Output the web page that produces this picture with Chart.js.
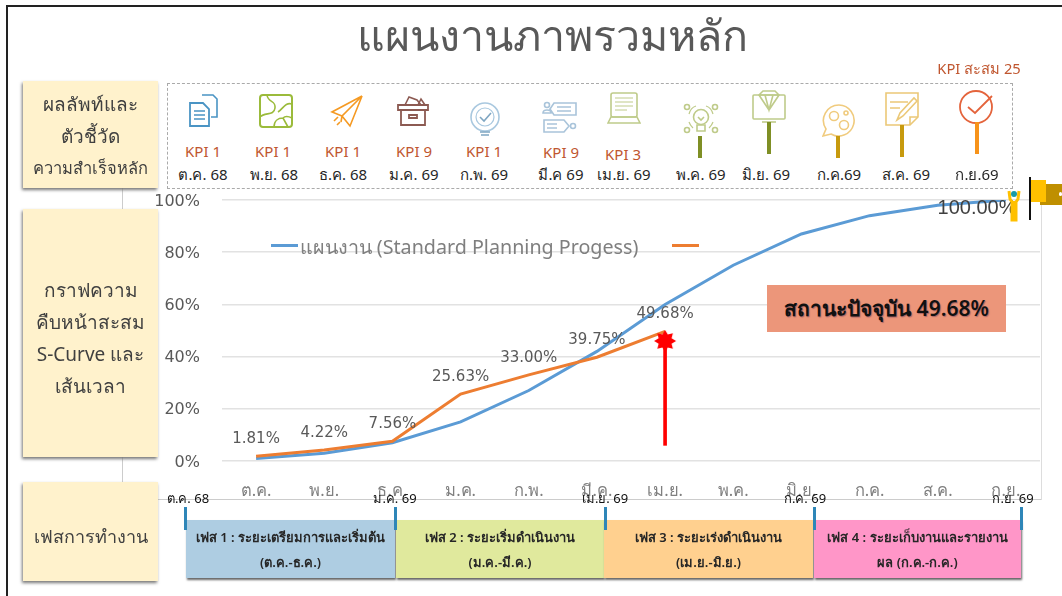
<!DOCTYPE html>
<html lang="th"><head><meta charset="utf-8">
<script src="https://cdn.jsdelivr.net/npm/chart.js@4"></script>
<style>
html,body{margin:0;padding:0;background:#fff;width:1062px;height:596px;overflow:hidden;font-family:"Noto Sans","DejaVu Sans",sans-serif}
.a{position:absolute}
.t{position:absolute;white-space:nowrap;transform:translate(-50%,-50%)}
.box{position:absolute;background:#FFF2CC;box-shadow:-1px 2px 3px #777;color:#404040;display:flex;flex-direction:column;align-items:center;justify-content:center;text-align:center;font-size:19px;box-sizing:border-box}
.ph{position:absolute;top:520px;height:58px;box-shadow:1px 2px 2px #666;color:#262626;font-size:13px;font-weight:600;text-align:center;line-height:25px;padding-top:5px;box-sizing:border-box}
.tick{position:absolute;width:3px;top:507px;height:23px;background:#2E86B8}
</style></head><body>
<div class="a" style="left:6px;top:5px;width:2px;height:591px;background:#222"></div>
<div class="a" style="left:6px;top:5px;width:1056px;height:2px;background:#222"></div>
<div class="a" style="left:122px;top:178px;width:1px;height:304px;background:#ccc"></div>
<div class="a" style="left:158px;top:499px;width:884px;height:1px;background:#ccc"></div>
<div class="a" style="left:1041px;top:205px;width:1px;height:295px;background:#ddd"></div>
<canvas id="c" class="a" style="left:0;top:0" width="1062" height="596"></canvas>
<div id="ui"></div>
<script>
const months=["ต.ค.","พ.ย.","ธ.ค.","ม.ค.","ก.พ.","มี.ค.","เม.ย.","พ.ค.","มิ.ย.","ก.ค.","ส.ค.","ก.ย."];
const plan=[1,3,7,15,27,42,60,75,87,94,98,100];
const actual=[1.81,4.22,7.56,25.63,33,39.75,49.68,null,null,null,null,null];
const statusPoint=[null,null,null,null,null,null,46,null,null,null,null,null];
const statusBar=[null,null,null,null,null,null,[6,46],null,null,null,null,null];
const yTicks=[0,20,40,60,80,100];
const kpiLabels=["KPI 1","KPI 1","KPI 1","KPI 9","KPI 1","KPI 9","KPI 3"];
const kpiMonths=["ต.ค. 68","พ.ย. 68","ธ.ค. 68","ม.ค. 69","ก.พ. 69","มี.ค 69","เม.ย. 69","พ.ค. 69","มิ.ย. 69","ก.ค.69","ส.ค. 69","ก.ย.69"];
const phaseText=[["เฟส 1 : ระยะเตรียมการและเริ่มต้น","(ต.ค.-ธ.ค.)"],["เฟส 2 : ระยะเริ่มดำเนินงาน","(ม.ค.-มี.ค.)"],["เฟส 3 : ระยะเร่งดำเนินงาน","(เม.ย.-มิ.ย.)"],["เฟส 4 : ระยะเก็บงานและรายงาน","ผล (ก.ค.-ก.ค.)"]];
const phaseDates=["ต.ค. 68","ม.ค. 69","เม.ย. 69","ก.ค. 69","ก.ย. 69"];

function starCanvas(){const s=24,c=document.createElement('canvas');c.width=c.height=s;const g=c.getContext('2d');g.fillStyle='#f00';g.beginPath();
 for(let i=0;i<16;i++){const r=i%2?7:11,a=i*Math.PI/8;g[i?'lineTo':'moveTo'](12+r*Math.cos(a),12+r*Math.sin(a));}g.closePath();g.fill();return c;}

const labelPlugin={id:'vals',afterDatasetsDraw(ch){const g=ch.ctx,m=ch.getDatasetMeta(1);g.save();g.font='15px "DejaVu Sans"';g.fillStyle='#595959';g.textAlign='center';g.textBaseline='middle';
 actual.forEach((v,i)=>{if(v==null)return;const p=m.data[i];g.fillText(v.toFixed(2)+'%',p.x,p.y-17);});g.restore();}};

new Chart(document.getElementById('c'),{type:'line',plugins:[labelPlugin],
 data:{labels:months,datasets:[
  {label:'แผนงาน (Standard Planning Progess)',data:plan,borderColor:'#5B9BD5',borderWidth:3,pointRadius:0,tension:0,order:3},
  {label:'',data:actual,borderColor:'#ED7D31',borderWidth:3,pointRadius:0,tension:0,order:2},
  {type:'bar',data:statusBar,backgroundColor:'#f00',barThickness:3,order:1},
  {data:statusPoint,showLine:false,pointStyle:starCanvas(),pointRadius:12,order:0}
 ]},
 options:{responsive:false,animation:false,
  layout:{padding:{left:222-80,right:1062-1040,top:200,bottom:85}},
  plugins:{legend:{display:false},tooltip:{enabled:false}},
  scales:{
   x:{afterFit(s){s.height=50;},grid:{display:false},border:{display:false},ticks:{color:'#808080',font:{size:16.5,family:'"Noto Sans","DejaVu Sans"'},padding:12,maxRotation:0,autoSkip:false}},
   y:{min:0,max:100,afterBuildTicks(s){s.ticks=yTicks.map(v=>({value:v}));},afterFit(s){s.width=80;},grid:{color:'#E2E2E2',lineWidth:1.5,drawTicks:false},border:{display:false},ticks:{color:'#595959',font:{size:16,family:'"DejaVu Sans"'},padding:22,labelOffset:1.5,callback:v=>v+'%'}}
  }}});

/* ---- page furniture ---- */
const ui=document.getElementById('ui');let h='';
h+=`<div class="t" style="left:552px;top:36px;font-size:43px;font-weight:500;color:#595959">แผนงานภาพรวมหลัก</div>`;
h+=`<div class="box" style="left:23px;top:81px;width:135px;height:107px;line-height:32px;padding-top:2px"><div>ผลลัพท์และ</div><div>ตัวชี้วัด</div><div style="font-size:16.5px">ความสำเร็จหลัก</div></div>`;
h+=`<div class="box" style="left:23px;top:209px;width:135px;height:248px;line-height:32px;padding-top:10px"><div>กราฟความ</div><div>คืบหน้าสะสม</div><div>S-Curve และ</div><div>เส้นเวลา</div></div>`;
h+=`<div class="box" style="left:23px;top:482px;width:135px;height:99px;font-size:18px;padding-top:10px"><div>เฟสการทำงาน</div></div>`;
h+=`<div class="a" style="left:167px;top:83px;width:844px;height:104px;border:1px dashed #aaa;background:#fff"></div>`;
h+=`<div class="t" style="left:979px;top:68px;font-size:14.7px;color:#C0562F">KPI สะสม 25</div>`;
const kx=[203,274,343,414,484,561,624,701,766,839,906,977];
const ky=[151,151,151,151,151,152,154];
kpiMonths.forEach((m,i)=>{h+=`<div class="t" style="left:${kx[i]}px;top:175px;font-size:15px;color:#262626">${m}</div>`;
 if(i<7)h+=`<div class="t" style="left:${[203,273,343,414,484,561,623][i]}px;top:${ky[i]}px;font-size:15px;color:#C0562F">${kpiLabels[i]}</div>`;});
/* status box */
h+=`<div class="t" style="left:977px;top:207px;font-size:20px;color:#404040;font-family:'Liberation Sans'">100.00%</div>`;
h+=`<div class="a" style="left:767px;top:285px;width:239px;height:47px;background:#EC967A;display:flex;align-items:center;justify-content:center;font-size:21px;font-weight:600;color:#111;text-shadow:1px 1px 1px #a66">สถานะปัจจุบัน 49.68%</div>`;
/* legend */
h+=`<div class="a" style="left:271px;top:244px;width:27px;height:3px;background:#5B9BD5"></div><div class="a" style="left:672px;top:244px;width:27px;height:3px;background:#ED7D31"></div>`;
h+=`<div class="t" style="left:469px;top:247px;font-size:19.7px;color:#7f7f7f">แผนงาน (Standard Planning Progess)</div>`;
/* phases */
const pl=[186,396,604,814],pw=[209,208,209,207],pc=['#AECDE2','#E0E99D','#FFD08F','#FF96C8'];
phaseText.forEach((p,i)=>{h+=`<div class="ph" style="left:${pl[i]}px;width:${pw[i]}px;background:${pc[i]}">${p[0]}<br>${p[1]}</div>`;});
[184,394,604,813,1020].forEach(x=>h+=`<div class="tick" style="left:${x}px"></div>`);
[188,395,605,805,1013].forEach((x,i)=>h+=`<div class="t" style="left:${x}px;top:498px;font-size:13px;color:#111">${phaseDates[i]}</div>`);
/* flag & marker */
h+=`<div class="a" style="left:1040px;top:184px;width:22px;height:21px;background:#BF8F00"></div><div class="a" style="left:1030px;top:180px;width:16px;height:22px;background:#FFC000"></div><div class="a" style="left:1029px;top:177px;width:2px;height:43px;background:#111"></div><div class="a" style="left:1059px;top:192px;width:3px;height:4px;background:#fff;border-radius:2px"></div>`;
h+=`<svg class="a" style="left:1006px;top:188px" width="16" height="34" viewBox="0 0 16 34"><path d="M3 3l1 8 2 3v18h4V14l2-3 1-8" fill="none" stroke="#FFC000" stroke-width="3"/><rect x="5" y="13" width="6" height="20" fill="#FFC000"/><circle cx="8" cy="6" r="3" fill="#1A9BA6"/></svg>`;
/* icons */
const sw=(c,b)=>`fill="none" stroke="${c}" stroke-width="${b||1.6}"`;
const G='#BFCB8A',Y='#F0CB7E',B='#A9C4DA';
const ic=[
 [187,94,32,34,`<path d="M15 1h11l4 4v18h-6" ${sw('#4A94C4')}/><path d="M3 9h13l6 6v17H3z" fill="#fff" stroke="#4A94C4" stroke-width="1.8"/><path d="M7 17h11M7 21h11M7 25h11" ${sw('#4A94C4')}/>`],
 [259,94,34,34,`<rect x="1" y="1" width="32" height="32" rx="3" ${sw('#9BBB3B',2)}/><path d="M8 1c1 8 9 5 8 13s-10 4-15 9M33 10c-7-2-9 5-14 8M15 33c0-6 4-9 9-9M24 24l5 9M24 24c3-3 7-1 9 0" ${sw('#9BBB3B')}/>`],
 [328,94,36,36,`<path d="M34 2L4 18l10 4zM34 2L14 22l8 10zM14 22l-1 6M6 27l4-4M9 31l3-3" ${sw('#F59A23')}/>`],
 [396,94,34,32,`<path d="M2 11h30v5H2zM5 16v15h24V16M13 21h8v3h-8z" ${sw('#8C5A52',1.8)}/><path d="M9 11l4-8 8 3 4 5M22 11l3-6 4 6" ${sw('#8C5A52')}/>`],
 [468,102,34,34,`<circle cx="17" cy="15" r="14" ${sw('#A9C8DF')}/><circle cx="17" cy="15" r="9" ${sw('#A9C8DF',1.2)}/><path d="M12 15l4 4 7-8M12 30h10M13 33h8" ${sw('#7FA6C2')}/>`],
 [542,100,36,36,`<circle cx="5" cy="5" r="2.500" ${sw(B)}/><path d="M1 13c0-4 8-4 8 0zM12 3h22v12H12l-4-6zM15 7h14M15 11h14" ${sw(B)}/><path d="M2 20h20l5 6-5 6H2zM5 24h10M5 28h10" ${sw(B)}/><circle cx="31" cy="26" r="2.500" ${sw(B)}/>`],
 [607,92,34,34,`<rect x="4" y="1" width="26" height="24" rx="2" ${sw(G)}/><path d="M8 6h18M8 10h18M8 14h18M8 18h12" ${sw(G,1)}/><path d="M1 31l3-6h26l3 6z" ${sw(G)}/>`],
 [683,102,36,36,`<circle cx="18" cy="15" r="7.500" ${sw(G)}/><path d="M14 23h8v6h-8zM15 15l3 3 3-3" ${sw(G)}/><path d="M6 12c1-4 4-7 7-8M30 12c-1-4-4-7-7-8M6 20c1 3 2 4 4 6M30 20c-1 3-2 4-4 6" ${sw(G,1.2)}/><circle cx="4" cy="5" r="2.500" ${sw(G)}/><circle cx="32" cy="5" r="2.500" ${sw(G)}/><circle cx="4" cy="28" r="2.500" ${sw(G)}/><circle cx="32" cy="28" r="2.500" ${sw(G)}/>`],
 [752,90,34,34,`<rect x="1" y="5" width="32" height="24" rx="1" ${sw(G)}/><path d="M7 5l4-4h12l4 4-10 15zM7 5h20M13 5l4 15 4-15" ${sw(G)}/><path d="M10 32h14" ${sw(G)}/>`],
 [822,104,34,34,`<path d="M17 1a15.500 15.500 0 1 1-8 29l-8 2 3-7A15.500 15.500 0 0 1 17 1z" ${sw(Y)}/><circle cx="12" cy="12" r="4.500" ${sw(Y)}/><circle cx="22" cy="21" r="4.500" ${sw(Y)}/><circle cx="24" cy="9" r="2" ${sw(Y)}/>`],
 [885,92,34,34,`<path d="M1 1h32v24l-8 8H1z" ${sw('#EBC877')}/><path d="M5 10h18M5 16h10M12 28l3-7 14-15 3 3-14 15zM25 33v-8h8" ${sw('#EBC877')}/>`],
 [959,90,34,34,`<circle cx="17" cy="17" r="16" ${sw('#E4643C',1.8)}/><path d="M9 17l7 6L33 6" ${sw('#E4643C',1.8)}/>`]
];
ic.forEach(a=>{h+=`<svg class="a" style="left:${a[0]}px;top:${a[1]}px" width="${a[2]}" height="${a[3]}" viewBox="0 0 ${a[2]} ${a[3]}">${a[4]}</svg>`;});
[[698,136,22,'#7F8F25'],[767,122,32,'#7F8F25'],[836,136,22,'#C79A0E'],[900,125,32,'#C79A0E'],[975,122,32,'#F7931A']].forEach(s=>{h+=`<div class="a" style="left:${s[0]}px;top:${s[1]}px;width:4px;height:${s[2]}px;background:${s[3]}"></div>`;});
ui.innerHTML=h;
</script>
</body></html>
